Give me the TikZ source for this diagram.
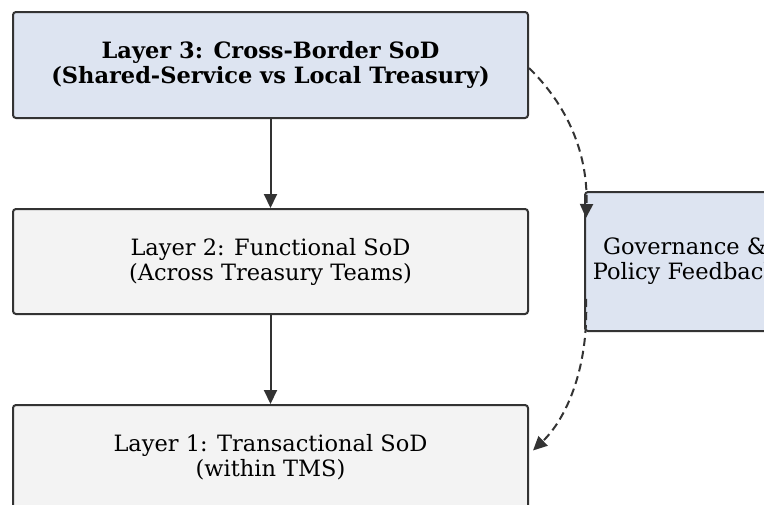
\documentclass[tikz,border=0pt]{standalone}
\usepackage{fontspec}
\setmainfont{DejaVu Serif}
\usetikzlibrary{arrows.meta,calc}
\definecolor{bluefill}{HTML}{DDE4F1}
\definecolor{grayfill}{HTML}{F3F3F3}
\definecolor{edge}{HTML}{333333}
\tikzset{
  box/.style={draw=edge, line width=2pt, rounded corners=3pt, minimum width=515pt, align=center, font=\fontsize{22.5}{25}\selectfont, inner sep=0pt},
  arr/.style={draw=edge, line width=2pt, -{Triangle[length=14pt,width=13pt]}},
  darr/.style={arr, dash pattern=on 8pt off 5pt}
}
\begin{document}
\begin{tikzpicture}[x=1pt,y=-1pt]
\path[use as bounding box, clip] (0,0) rectangle (764,504);
\fill[white] (0,0) rectangle (764,504);
\node[box, fill=bluefill, minimum height=106pt] (l3) at (270.5,65) {\textbf{Layer 3: Cross-Border SoD}\\\textbf{(Shared-Service vs Local Treasury)}};
\node[box, fill=grayfill, minimum height=105pt] (l2) at (270.5,261.5) {Layer 2: Functional SoD\\(Across Treasury Teams)};
\node[box, fill=grayfill, minimum height=105pt] (l1) at (270.5,457.5) {Layer 1: Transactional SoD\\(within TMS)};
\node[box, fill=bluefill, minimum width=200pt, minimum height=139pt] (gov) at (685,261.5) {Governance \&\\Policy Feedback};
\draw[arr] (l3) -- (l2);
\draw[arr] (l2) -- (l1);
\coordinate (g1) at ($(gov.north west)+(2,27)$);
\coordinate (g2) at ($(gov.north west)+(2,108)$);
\draw[darr] ($(l3.east)+(0,3)$) .. controls (572,110) and (588,160) .. (g1);
\draw[darr] (g2) .. controls (589,370) and (565,420) .. ($(l1.east)+(4,-7)$);
\end{tikzpicture}
\end{document}
